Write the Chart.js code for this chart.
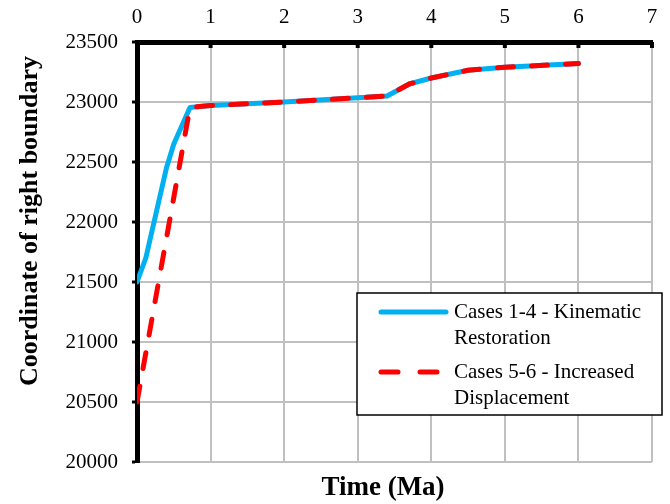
<!DOCTYPE html>
<html lang="en">
<head>
  <meta charset="UTF-8" />
  <title>Coordinate of right boundary</title>
  <script src="https://cdn.jsdelivr.net/npm/chart.js"></script>
  <style>
    html, body { margin: 0; padding: 0; background: #fff; }
    #wrap { width: 670px; height: 504px; }
  </style>
</head>
<body>
  <div id="wrap"><canvas id="boundaryChart" width="670" height="504"></canvas></div>

  <script>
    // data
    const timeKinematic = [0, 0.12, 0.4, 0.5, 0.72, 1, 2, 3, 3.4, 3.7, 4, 4.5, 5, 6];
    const coordKinematic = [21500, 21700, 22450, 22650, 22955, 22970, 23000, 23035, 23050, 23150, 23200, 23265, 23290, 23320];
    const timeIncreased = [0, 0.72, 1, 2, 3, 3.4, 3.7, 4, 4.5, 5, 6];
    const coordIncreased = [20500, 22955, 22970, 23000, 23035, 23050, 23150, 23200, 23265, 23290, 23320];
    const seriesLabels = [
      ["Cases 1-4 - Kinematic", "Restoration"],
      ["Cases 5-6 - Increased", "Displacement"]
    ];
    const xTicks = [0, 1, 2, 3, 4, 5, 6, 7];
    const yTicks = [20000, 20500, 21000, 21500, 22000, 22500, 23000, 23500];
    const xTitle = "Time (Ma)";
    const yTitle = "Coordinate of right boundary";

    const serif = "'Liberation Serif', 'Times New Roman', serif";

    function toPoints(xs, ys) {
      return xs.map((x, i) => ({ x: x, y: ys[i] }));
    }

    // small inner tick marks under the top axis
    const topTicks = {
      id: "topTicks",
      afterDraw(chart) {
        const ctx = chart.ctx;
        const xs = chart.scales.x;
        const top = chart.chartArea.top;
        ctx.save();
        ctx.fillStyle = "#000";
        xTicks.forEach(v => {
          const px = xs.getPixelForValue(v);
          ctx.fillRect(px - 2, top, 4, 6);
        });
        ctx.restore();
      }
    };

    // axis titles, placed like the Excel original (not centred on the plot)
    const axisTitles = {
      id: "axisTitles",
      afterDraw(chart) {
        const ctx = chart.ctx;
        ctx.save();
        ctx.fillStyle = "#000";
        ctx.textAlign = "center";
        ctx.textBaseline = "middle";
        ctx.font = "bold 27px " + serif;
        ctx.fillText(xTitle, 383, 488);
        ctx.translate(30, 221);
        ctx.rotate(-Math.PI / 2);
        ctx.font = "bold 26px " + serif;
        ctx.fillText(yTitle, 0, 0);
        ctx.restore();
      }
    };

    // boxed legend with two-line labels
    const boxLegend = {
      id: "boxLegend",
      afterDraw(chart) {
        const ctx = chart.ctx;
        const left = 357, top = 293, width = 305, height = 122;
        ctx.save();
        ctx.fillStyle = "#fff";
        ctx.fillRect(left, top, width, height);
        ctx.strokeStyle = "#000";
        ctx.lineWidth = 1.5;
        ctx.strokeRect(left, top, width, height);

        chart.data.datasets.forEach((ds, i) => {
          const y = top + 19 + i * 60;
          ctx.beginPath();
          ctx.strokeStyle = ds.borderColor;
          ctx.lineWidth = ds.borderWidth;
          ctx.lineCap = "round";
          ctx.setLineDash(ds.borderDash ? [17, 22] : []);
          ctx.moveTo(left + 24, y);
          ctx.lineTo(left + 89, y);
          ctx.stroke();
          ctx.setLineDash([]);

          ctx.fillStyle = "#000";
          ctx.font = "21px " + serif;
          ctx.textBaseline = "middle";
          ds.label.forEach((line, j) => {
            ctx.fillText(line, left + 97, y + j * 26);
          });
        });
        ctx.restore();
      }
    };

    const ctx = document.getElementById("boundaryChart").getContext("2d");

    new Chart(ctx, {
      type: "line",
      data: {
        datasets: [
          {
            label: seriesLabels[0],
            data: toPoints(timeKinematic, coordKinematic),
            borderColor: "#00b0f0",
            borderWidth: 5,
            pointRadius: 0,
            tension: 0,
            order: 1,
            borderCapStyle: "round",
            borderJoinStyle: "round"
          },
          {
            label: seriesLabels[1],
            data: toPoints(timeIncreased, coordIncreased),
            borderColor: "#ff0000",
            borderWidth: 5,
            borderDash: [16, 18],
            pointRadius: 0,
            tension: 0,
            order: 0,
            borderCapStyle: "round",
            borderJoinStyle: "round"
          }
        ]
      },
      options: {
        responsive: false,
        animation: false,
        layout: { padding: { left: 0, right: 18, top: 0, bottom: 42 } },
        plugins: {
          legend: { display: false },
          tooltip: { enabled: false }
        },
        scales: {
          x: {
            type: "linear",
            position: "top",
            min: 0,
            max: 7,
            afterBuildTicks: s => { s.ticks = xTicks.map(v => ({ value: v })); },
            afterFit: s => { s.height = 42; },
            grid: { color: "#c0c0c0", lineWidth: 2, drawTicks: false },
            border: { color: "#000", width: 5 },
            ticks: {
              color: "#000",
              padding: 12,
              font: { family: serif, size: 21 }
            }
          },
          y: {
            min: 20000,
            max: 23500,
            afterBuildTicks: s => { s.ticks = yTicks.map(v => ({ value: v })); },
            afterFit: s => { s.width = 137; },
            grid: {
              color: "#c0c0c0",
              lineWidth: 2,
              tickColor: "#000",
              tickLength: 5,
              tickWidth: 3
            },
            border: { color: "#000", width: 5 },
            ticks: {
              color: "#000",
              padding: 14,
              font: { family: serif, size: 21 },
              callback: v => String(v)
            }
          }
        }
      },
      plugins: [topTicks, axisTitles, boxLegend]
    });
  </script>
</body>
</html>
